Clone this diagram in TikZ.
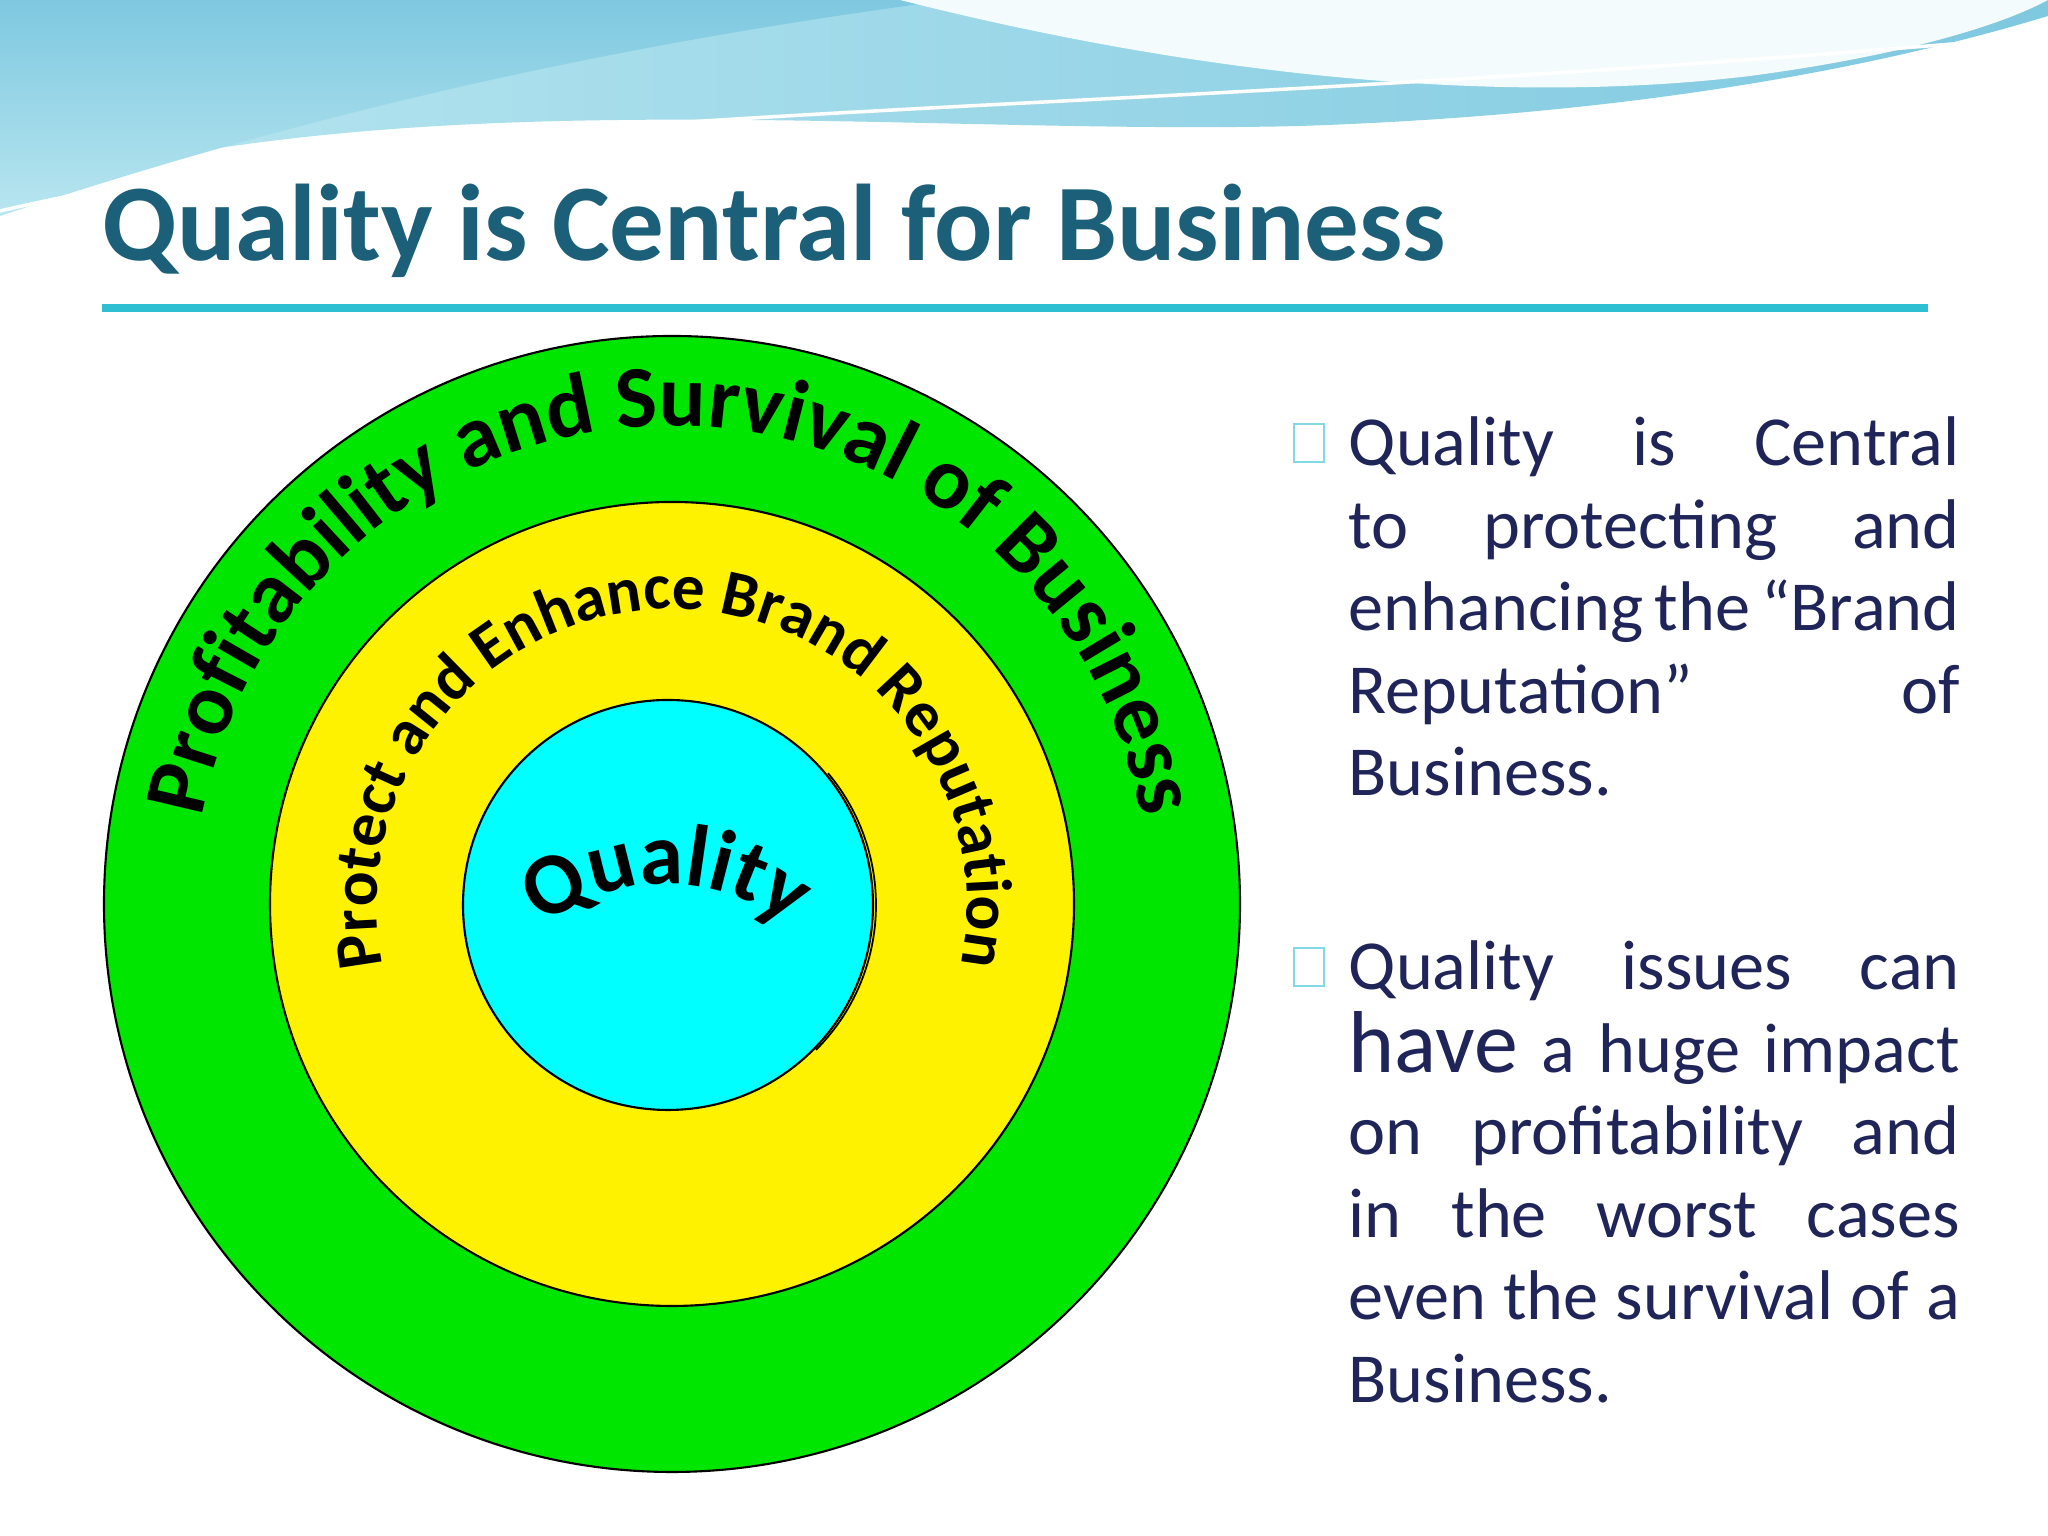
\documentclass[tikz,border=0pt]{standalone}
\usepackage{fontspec}
\setmainfont{Carlito}
\usetikzlibrary{decorations.text}
\hyphenpenalty=10000
\exhyphenpenalty=10000
\definecolor{titlec}{HTML}{1B5F78}
\definecolor{txtc}{HTML}{1F2558}
\definecolor{linec}{HTML}{2EC0D2}
\definecolor{wave1}{HTML}{7EC8E0}
\definecolor{wave2}{HTML}{B8E6F0}
\definecolor{grn}{HTML}{00E600}
\definecolor{cy}{HTML}{00FFFF}
\tikzset{ring/.style={draw=black,line width=0.6pt},
 body/.style={anchor=north west,inner sep=0pt,text width=6.11cm,align=justify,font=\fontsize{20}{23.5}\selectfont,text=txtc},
 bul/.style={draw=linec!60,line width=0.6pt,minimum width=0.3cm,minimum height=0.38cm,inner sep=0pt}}
\begin{document}
\begin{tikzpicture}
\useasboundingbox (0,0) rectangle (20.48,15.36);
\fill[white] (0,0) rectangle (20.48,15.36);
% top waves
\shade[left color=wave2,right color=wave1] (0,15.36) -- (0,13.4) .. controls (4,14.6) and (9,14.0) .. (13,14.1) .. controls (16,14.2) and (18.5,14.6) .. (20.48,15.2) -- (20.48,15.36) -- cycle;
\shade[top color=wave1,bottom color=wave2] (0,15.36) -- (0,13.2) .. controls (3,14.2) and (6,14.9) .. (9.5,15.36) -- cycle;
\fill[white!85!wave2] (9.0,15.36) .. controls (12,14.6) and (15,14.3) .. (17.5,14.6) .. controls (19,14.8) and (20,15.1) .. (20.48,15.36) -- cycle;
\draw[white,line width=1pt] (0,13.25) .. controls (5,14.4) and (10,14.1) .. (20.48,15.0);
% title
\node[anchor=base west,inner sep=0pt,font=\bfseries\fontsize{31}{36}\selectfont,text=titlec] (title) at (1.02,12.75) {Quality is Central for Business};
\draw[linec,line width=2.5pt] (1.02,12.28) coordinate (ul1) -- (19.28,12.28) coordinate (ul2);
% rings
\coordinate (c) at (6.72,6.32);
\fill[grn,ring] (c) circle (5.68);
\fill[yellow,ring] (c) circle (4.02);
\fill[cy,ring] (6.68,6.31) circle (2.05);
\draw[black,line width=0.5pt] (6.71,6.31)++(40:2.05) arc (40:-45:2.05);
\path[decorate,decoration={text effects along path,text={Profitability and Survival of Business},text align=center,text effects/.cd,text along path,character command=\bfseries\fontsize{25}{28}\selectfont}] (c)++(188:4.78) arc (188:-8:4.78);
\path[decorate,decoration={text effects along path,text={Protect and Enhance Brand Reputation},text align=center,text effects/.cd,text along path,character command=\bfseries\fontsize{18.5}{22}\selectfont}] (c)++(200:2.95) arc (200:-20:2.95);
\path[decorate,decoration={text effects along path,text={Quality},text align=center,text effects/.cd,text along path,character command=\bfseries\fontsize{25}{28}\selectfont}] (6.66,4.52)++(140:2.0) arc (140:40:2.0);
% bullets and text
\node[bul] (b1) at (13.09,10.93) {};
\node[body] (t1) at (13.48,11.2) {Quality is Central to protecting and enhancing the “Brand Reputation” of Business.};
\node[bul] (b2) at (13.09,5.69) {};
\node[body] (t2) at (13.48,5.96) {Quality issues can {\fontsize{25}{23.5}\selectfont have} a huge impact on profitability and in the worst cases even the survival of a Business.};
\end{tikzpicture}
\end{document}
